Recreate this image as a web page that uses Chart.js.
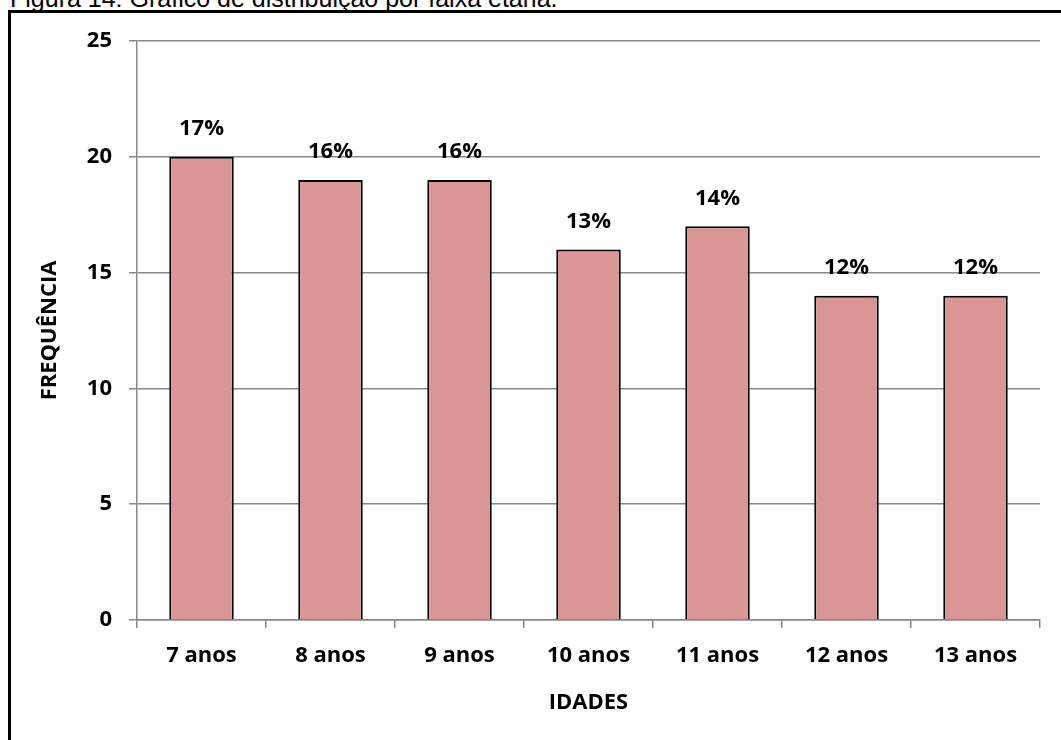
<!DOCTYPE html>
<html lang="pt">
<head>
<meta charset="utf-8">
<title>Distribuição por faixa etária</title>
<script src="https://cdn.jsdelivr.net/npm/chart.js@4.4.1/dist/chart.umd.min.js"></script>
<style>
  html, body { margin: 0; padding: 0; background: #fff; overflow: hidden; }
  #page { position: relative; width: 1061px; height: 740px; overflow: hidden; }
  #caption {
    position: absolute; left: 10px; top: -17px;
    font-family: "Liberation Sans", Arial, sans-serif; font-size: 25px;
    color: #000; white-space: nowrap; line-height: 30px;
  }
  #frame {
    position: absolute; left: 8px; top: 10px; width: 2000px; height: 2000px;
    border: 3px solid #000; box-sizing: border-box;
  }
  #chart { position: absolute; left: 0; top: 0; }
</style>
</head>
<body>
<div id="page">
  <div id="caption">Figura 14: Gráfico de distribuição por faixa etária.</div>
  <div id="frame"></div>
  <canvas id="chart" width="1061" height="740"></canvas>
</div>
<script>
// Idades e frequências de cada faixa
const idades = ['7 anos', '8 anos', '9 anos', '10 anos', '11 anos', '12 anos', '13 anos'];
const frequencias = [20, 19, 19, 16, 17, 14, 14];
const yTicks = [0, 5, 10, 15, 20, 25];

const total = frequencias.reduce((a, b) => a + b, 0);
const percentuais = frequencias.map(v => Math.round(v / total * 100) + '%');

const FONT = '"Open Sans", "DejaVu Sans", sans-serif';
const GRID = '#888888';

// Percentual escrito acima de cada barra
const rotulos = {
  id: 'rotulos',
  afterDatasetsDraw(chart) {
    const ctx = chart.ctx;
    const meta = chart.getDatasetMeta(0);
    ctx.save();
    ctx.font = 'bold 22px ' + FONT;
    ctx.fillStyle = '#000';
    ctx.textAlign = 'center';
    ctx.textBaseline = 'middle';
    meta.data.forEach((bar, i) => {
      ctx.fillText(percentuais[i], bar.x, bar.y - 28);
    });
    ctx.restore();
  }
};

new Chart(document.getElementById('chart'), {
  type: 'bar',
  data: {
    labels: idades,
    datasets: [{
      data: frequencias,
      backgroundColor: '#D99694',
      borderColor: '#000',
      borderWidth: 2,
      categoryPercentage: 0.5,
      barPercentage: 1.0
    }]
  },
  options: {
    responsive: false,
    animation: false,
    layout: { padding: { top: 41, right: 21, bottom: 0, left: 0 } },
    plugins: { legend: { display: false }, tooltip: { enabled: false } },
    scales: {
      x: {
        grid: {
          offset: true, drawOnChartArea: false, drawTicks: true,
          tickLength: 8, color: GRID, lineWidth: 1.5
        },
        border: { display: true, color: GRID, width: 1.5 },
        ticks: { color: '#000', font: { family: FONT, size: 22, weight: 'bold' }, padding: 15, maxRotation: 0 },
        title: {
          display: true, text: 'IDADES', color: '#000',
          font: { family: FONT, size: 22, weight: 'bold', lineHeight: 1.2 },
          padding: { top: 0, bottom: 24 }
        },
        afterFit(scale) { scale.height = 120; }
      },
      y: {
        min: 0, max: 25,
        afterBuildTicks(scale) { scale.ticks = yTicks.map(v => ({ value: v })); },
        grid: { color: GRID, lineWidth: 1.5, tickLength: 8, drawTicks: true },
        border: { display: true, color: GRID, width: 1.5 },
        ticks: { color: '#000', font: { family: FONT, size: 22, weight: 'bold' }, padding: 17 },
        title: {
          display: true, text: 'FREQUÊNCIA', color: '#000',
          font: { family: FONT, size: 22, weight: 'bold', lineHeight: 1.2 },
          padding: { top: 37, bottom: 0 }
        },
        afterFit(scale) { scale.width = 137; }
      }
    }
  },
  plugins: [rotulos]
});
</script>
</body>
</html>
